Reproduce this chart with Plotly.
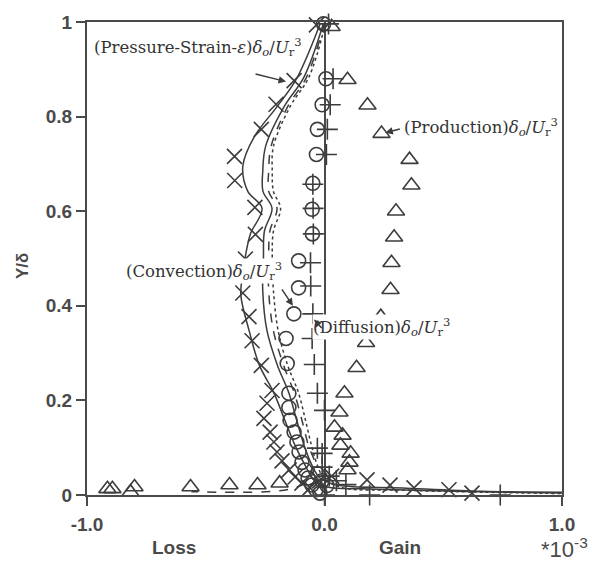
import plotly.graph_objects as go

# Turbulent kinetic energy budget terms, x in units of 1e-3, y = Y/delta
prod_x = [0.03, 0.097, 0.181, 0.240, 0.358, 0.366, 0.301, 0.293, 0.282, 0.278, 0.237, 0.175,
          0.135, 0.084, 0.063, 0.042, 0.076, 0.067, 0.110, 0.105, 0.097,
          -0.914, -0.893, -0.817, -0.800, -0.564, -0.400, -0.282, -0.189]
prod_y = [0.99, 0.878, 0.824, 0.764, 0.709, 0.655, 0.600, 0.545, 0.491, 0.434, 0.377, 0.322,
          0.269, 0.215, 0.175, 0.143, 0.126, 0.105, 0.088, 0.069, 0.053,
          0.013, 0.013, 0.006, 0.017, 0.017, 0.021, 0.021, 0.025]

conv_x = [-0.004, 0.006, -0.010, -0.030, -0.034, -0.049, -0.052, -0.051, -0.109, -0.109, -0.129,
          -0.162, -0.157, -0.150, -0.150, -0.145, -0.128, -0.116, -0.107, -0.095, -0.082, -0.069,
          -0.053, -0.036, -0.019, -0.030, -0.010, 0.010]
conv_y = [0.996, 0.880, 0.825, 0.773, 0.720, 0.659, 0.604, 0.552, 0.495, 0.438, 0.383,
          0.331, 0.278, 0.215, 0.185, 0.158, 0.133, 0.112, 0.091, 0.069, 0.053, 0.036,
          0.021, 0.011, 0.004, 0.045, 0.030, 0.020]

diff_x = [0.017, 0.036, 0.024, 0.012, 0.008, -0.049, -0.048, -0.047, -0.059, -0.058, -0.049,
          -0.052, -0.043, -0.030, 0.000, -0.030, -0.010, -0.010, 0.020, 0.050, 0.090,
          0.000, 0.190, 0.740]
diff_y = [0.996, 0.880, 0.825, 0.773, 0.720, 0.657, 0.606, 0.552, 0.491, 0.442, 0.383,
          0.331, 0.276, 0.215, 0.179, 0.099, 0.088, 0.059, 0.040, 0.030, 0.022,
          0.000, 0.000, 0.000]

ps_x = [-0.034, -0.128, -0.204, -0.266, -0.379, -0.378, -0.293, -0.291, -0.333, -0.344, -0.318,
        -0.305, -0.266, -0.221, -0.242, -0.255, -0.229, -0.213, -0.200, -0.179, -0.149, -0.124,
        -0.095, -0.061, -0.020, 0.030, 0.179, 0.276, 0.377, 0.524, 0.621]
ps_y = [0.994, 0.876, 0.826, 0.773, 0.716, 0.665, 0.608, 0.551, 0.499, 0.427, 0.377,
        0.326, 0.274, 0.221, 0.194, 0.162, 0.133, 0.112, 0.091, 0.072, 0.053, 0.038,
        0.025, 0.015, 0.030, 0.040, 0.032, 0.021, 0.015, 0.011, 0.004]

# Computed pressure-strain minus dissipation profiles
line_a_x = [-0.017, -0.120, -0.203, -0.295, -0.344, -0.323, -0.263, -0.312, -0.333, -0.346, -0.352,
            -0.317, -0.274, -0.214, -0.167, -0.124, -0.082, -0.044, 0.013, 0.160, 0.539, 1.0]
line_a_y = [0.998, 0.878, 0.819, 0.758, 0.695, 0.642, 0.606, 0.552, 0.505, 0.463, 0.421,
            0.347, 0.274, 0.217, 0.158, 0.105, 0.063, 0.032, 0.017, 0.013, 0.008, 0.004]

line_b_x = [-0.004, -0.086, -0.170, -0.248, -0.260, -0.259, -0.221, -0.253, -0.257, -0.260, -0.242,
            -0.198, -0.151, -0.117, -0.086, -0.053, -0.019, 0.055, 0.328, 0.665, 1.0]
line_b_y = [0.998, 0.884, 0.821, 0.737, 0.684, 0.642, 0.606, 0.558, 0.501, 0.432, 0.347,
            0.274, 0.217, 0.158, 0.105, 0.063, 0.036, 0.021, 0.015, 0.008, 0.006]

line_c_x = [0.0, -0.075, -0.155, -0.225, -0.235, -0.235, -0.200, -0.230, -0.235, -0.235, -0.215,
            -0.172, -0.128, -0.095, -0.068, -0.040, -0.070, -0.150, -0.560]
line_c_y = [0.998, 0.884, 0.821, 0.737, 0.684, 0.642, 0.606, 0.558, 0.501, 0.432, 0.347,
            0.274, 0.217, 0.158, 0.105, 0.063, 0.030, 0.012, 0.007]

line_d_x = [0.004, -0.065, -0.145, -0.215, -0.220, -0.215, -0.185, -0.215, -0.220, -0.215, -0.195,
            -0.155, -0.110, -0.080, -0.055, -0.030, -0.003, 0.070, 0.340, 0.660, 1.0]
line_d_y = [0.998, 0.884, 0.821, 0.737, 0.684, 0.642, 0.606, 0.558, 0.501, 0.432, 0.347,
            0.274, 0.217, 0.158, 0.105, 0.063, 0.036, 0.016, 0.010, 0.006, 0.003]

INK = "#3c3c3c"
AX = "#4a4a4a"

fig = go.Figure()

for lx, ly, dash in [(line_a_x, line_a_y, "solid"), (line_b_x, line_b_y, "solid"),
                     (line_c_x, line_c_y, "dash"), (line_d_x, line_d_y, "dot")]:
    fig.add_trace(go.Scatter(x=lx, y=ly, mode="lines", line=dict(color=INK, width=1.5, dash=dash),
                             line_shape="spline", cliponaxis=False, hoverinfo="skip"))

def markers(x, y, symbol, size):
    return go.Scatter(x=x, y=y, mode="markers", cliponaxis=False,
                      marker=dict(symbol=symbol, size=size, color=INK,
                                  line=dict(color=INK, width=1.6)))

fig.add_trace(markers(prod_x, prod_y, "triangle-up-open", 15))
fig.add_trace(markers(conv_x, conv_y, "circle-open", 14))
fig.add_trace(markers(diff_x, diff_y, "cross-thin-open", 15))
fig.add_trace(markers(ps_x, ps_y, "x-thin-open", 15))

label_font = dict(family="DejaVu Serif", size=16.5, color="#333333")
unit = "<i>δ<sub>o</sub></i>/<i>U</i><sub>r</sub><sup>3</sup>"
labels = [
    ("(Pressure-Strain-<i>ε</i>)" + unit, 0.013, 0.947),
    ("(Production)" + unit, 0.665, 0.779),
    ("(Convection)" + unit, 0.08, 0.474),
    ("(Diffusion)" + unit, 0.474, 0.356),
]
annotations = []
for text, x, y in labels:
    annotations.append(dict(text=text, x=x, y=y, xref="paper", yref="paper", xanchor="left",
                            yanchor="middle", showarrow=False, font=label_font,
                            bgcolor="white", borderpad=0))

# Pointer arrows from labels to data
for x, y, ax, ay in [(-0.162, 0.874, -32, -8), (0.256, 0.766, 16, -4),
                     (-0.133, 0.400, -12, -18), (-0.044, 0.371, 9, 10)]:
    annotations.append(dict(x=x, y=y, xref="x", yref="y", ax=ax, ay=ay, text="", showarrow=True,
                            arrowhead=2, arrowsize=1, arrowwidth=1.5, arrowcolor=INK))

bold = dict(family="Liberation Sans", size=19, color=AX, weight="bold")
annotations += [
    dict(text="Loss", x=0.133, y=-0.112, xref="paper", yref="paper", yanchor="middle",
         showarrow=False, font=bold),
    dict(text="Gain", x=0.659, y=-0.112, xref="paper", yref="paper", yanchor="middle",
         showarrow=False, font=bold),
    dict(text="*10<sup>-3</sup>", x=1.006, y=-0.112, xref="paper", yref="paper",
         xanchor="center", yanchor="middle",
         showarrow=False, font=dict(family="Liberation Sans", size=22, color=AX)),
    dict(text="Y/δ", x=-0.137, y=0.484, xref="paper", yref="paper", xanchor="center",
         yanchor="middle", showarrow=False, textangle=-90,
         font=dict(family="Liberation Sans", size=17, color=AX, weight="bold")),
]

tickfont = dict(family="Liberation Sans", size=19, color=AX, weight="bold")
fig.update_xaxes(range=[-1, 1], tickvals=[-1, 0, 1], ticktext=["-1.0", "0.0", "1.0"],
                 ticks="outside", ticklen=9, tickwidth=1.5, tickcolor=AX, tickfont=tickfont,
                 ticklabelstandoff=2,
                 showline=True, mirror=True, linecolor=AX, linewidth=2,
                 zeroline=True, zerolinecolor=AX, zerolinewidth=1.5, showgrid=False)
fig.update_yaxes(range=[0, 1], tickvals=[0, 0.2, 0.4, 0.6, 0.8, 1],
                 ticktext=["0", "0.2", "0.4", "0.6", "0.8", "1"],
                 ticks="outside", ticklen=9, tickwidth=1.5, tickcolor=AX, tickfont=tickfont,
                 showline=True, mirror=True, linecolor=AX, linewidth=2,
                 zeroline=False, showgrid=False)

fig.update_layout(width=592, height=561, margin=dict(l=87, r=30, t=20, b=66),
                  paper_bgcolor="white", plot_bgcolor="white", showlegend=False,
                  annotations=annotations)

fig.write_html("out.html")
